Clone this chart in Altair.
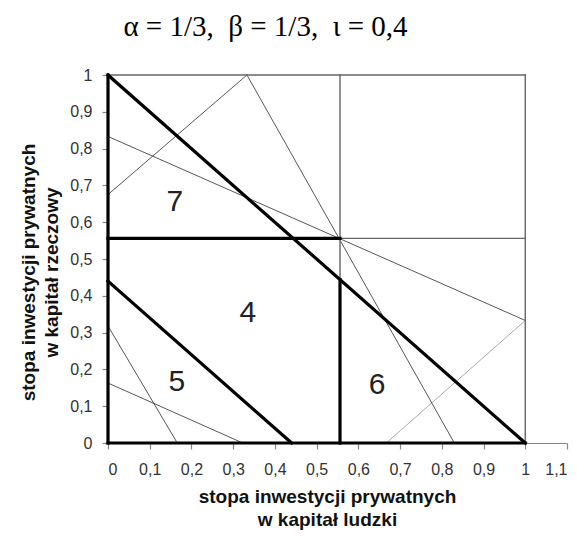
import altair as alt
import pandas as pd

# Segments: x1, y1, x2, y2, kind
seg_x1 = [0, 0, 0, 0.556, 0, 0, 0, 1, 0.556, 0.556, 0, 0.333, 0, 0.667, 0, 0]
seg_y1 = [1, 0.44, 0.556, 0, 0, 0, 1, 0, 0.444, 0.556, 0.675, 1, 0.833, 0, 0.318, 0.163]
seg_x2 = [1, 0.44, 0.556, 0.556, 0, 1, 1, 1, 0.556, 1, 0.333, 0.83, 1, 1, 0.166, 0.323]
seg_y2 = [0, 0, 0.556, 0.444, 1, 0, 1, 1, 1, 0.556, 1, 0, 0.333, 0.333, 0, 0]
seg_kind = ["thick", "thick", "thick", "thick", "thick", "thick",
            "frame", "frame", "frame", "frame",
            "thin", "thin", "thin", "light", "thin", "thin"]

label_text = ["7", "4", "5", "6"]
label_x = [0.16, 0.335, 0.165, 0.645]
label_y = [0.655, 0.352, 0.166, 0.157]

x_ticks = [0, 0.1, 0.2, 0.3, 0.4, 0.5, 0.6, 0.7, 0.8, 0.9, 1, 1.1]
y_ticks = [0, 0.1, 0.2, 0.3, 0.4, 0.5, 0.6, 0.7, 0.8, 0.9, 1]

color_map = {"thick": "#000000", "frame": "#666666", "thin": "#444444", "light": "#aaaaaa"}
width_map = {"thick": 3.2, "frame": 1.4, "thin": 0.9, "light": 1.0}

segs = pd.DataFrame({"x1": seg_x1, "y1": seg_y1, "x2": seg_x2, "y2": seg_y2, "kind": seg_kind})
segs["color"] = segs["kind"].map(color_map)
segs["sw"] = segs["kind"].map(width_map)
order = {"light": 0, "thin": 1, "frame": 2, "thick": 3}
segs["ord"] = segs["kind"].map(order)
segs = segs.sort_values("ord")

labels = pd.DataFrame({"t": label_text, "x1": label_x, "y1": label_y})

lab_expr = "replace(format(datum.value, '.1~f'), '.', ',')"

xenc = alt.X("x1:Q", scale=alt.Scale(domain=[0, 1.1], nice=False, zero=False),
             axis=alt.Axis(values=x_ticks, labelExpr=lab_expr, labelOverlap=False,
                           title=["stopa inwestycji prywatnych", "w kapitał ludzki"],
                           titleX=219, grid=False))
yenc = alt.Y("y1:Q", scale=alt.Scale(domain=[0, 1], nice=False, zero=False),
             axis=alt.Axis(values=y_ticks, labelExpr=lab_expr, labelOverlap=False,
                           tickCount=11,
                           title=["stopa inwestycji prywatnych", "w kapitał rzeczowy"],
                           titleY=197, grid=False))

lines = alt.Chart(segs).mark_rule(strokeCap="square").encode(
    x=xenc, y=yenc, x2="x2:Q", y2="y2:Q",
    color=alt.Color("color:N", scale=None),
    strokeWidth=alt.StrokeWidth("sw:Q", scale=None),
    order="ord:Q",
)

text = alt.Chart(labels).mark_text(font="Liberation Sans", fontSize=30, color="#222222").encode(
    x=xenc, y=yenc, text="t:N"
)

nb = "\u00a0"
chart = alt.layer(lines, text).properties(
    width=459, height=368,
    autosize=alt.AutoSizeParams(type="none"),
    padding={"left": 100, "top": 67, "right": 2, "bottom": 87},
    title=alt.TitleParams(
        f"α{nb}={nb}1/3,{nb}{nb}β{nb}={nb}1/3,{nb}{nb}ι{nb}={nb}0,4",
        font="Liberation Serif", fontSize=29, fontWeight="normal",
        anchor="middle", dx=-72, offset=25, color="#000000",
    ),
).configure_view(stroke=None).configure_axis(
    domainColor="#888888", domainWidth=1.2, tickColor="#888888", tickSize=6, tickWidth=1.2,
    labelColor="#333333", labelFont="Liberation Sans", labelFontSize=16,
    titleFont="Liberation Sans", titleFontSize=19, titleFontWeight="bold", titleColor="#111111",
    titleLineHeight=23,
).configure_axisX(titlePadding=10, labelPadding=12).configure_axisY(titlePadding=8, labelPadding=10)

chart.save("out.html", embed_options={"renderer": "svg", "actions": False})
